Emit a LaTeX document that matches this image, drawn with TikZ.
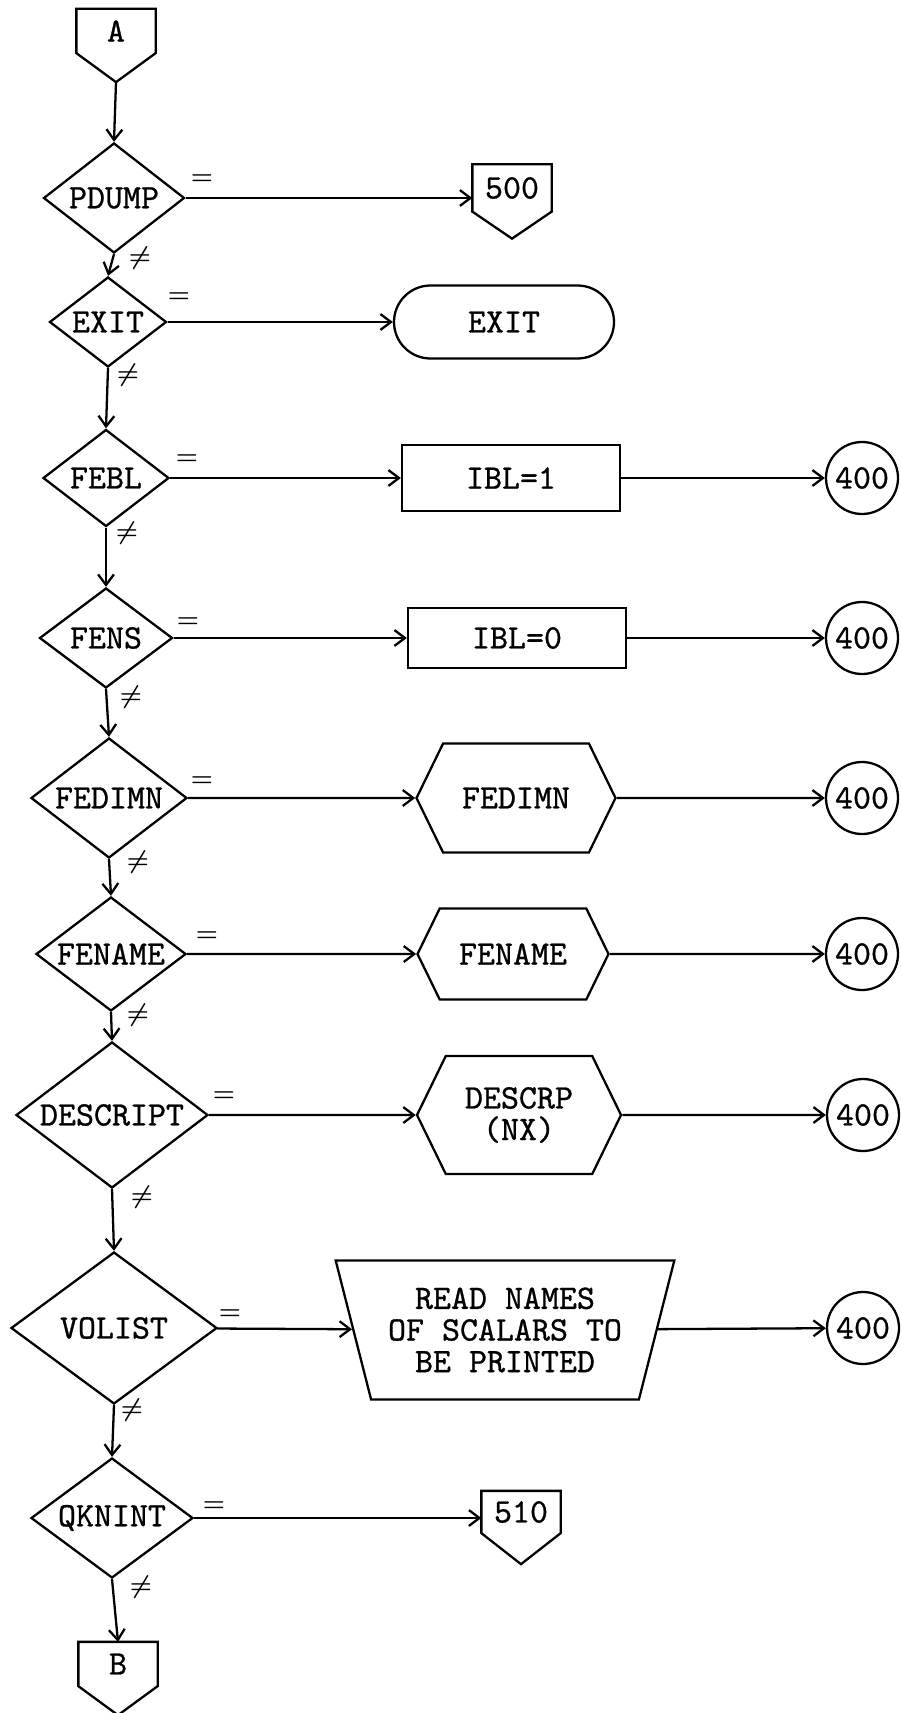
\documentclass[tikz,border=0pt]{standalone}
\usepackage{fontspec}
\newfontfamily\typewriter{lmmono10-regular.otf}[FakeBold=0.8]
\usetikzlibrary{arrows.meta,shapes.geometric,shapes.symbols}

% off-page connector outline: #1 node name, #2 depth of the point
\newcommand{\offpagebox}[2]{%
  \draw[line width=1.3pt] (#1.south west) -- (#1.north west) -- (#1.north east)
    -- (#1.south east) -- ([yshift=-#2]#1.south) -- cycle;
  \coordinate (#1-tip) at ([yshift=-#2]#1.south);}

\begin{document}
\begin{tikzpicture}[x=0.2mm, y=-0.2mm,
  font=\typewriter\fontsize{19.5}{18}\selectfont,
  every node/.style={line width=1.3pt, inner sep=0pt},
  test/.style={draw, diamond, aspect=1.3},
  offpage/.style={rectangle, minimum width=15.4mm, minimum height=8.4mm},
  prep/.style={draw, signal, signal to=east and west, signal pointer angle=128},
  proc/.style={draw, rectangle, minimum width=43.6mm},
  conn/.style={draw, circle, minimum size=14.4mm},
  flow/.style={-{Straight Barb[length=6pt,width=9pt]}, line width=1.3pt},
  lbl/.style={font=\fontsize{14}{16}\selectfont\boldmath},
]
  \useasboundingbox (0,0) rectangle (901,1713);

  %% Decision column
  \node[offpage] (a) at (116,31) {A};
  \node[test, minimum width=28.2mm, minimum height=22mm]   (pdump)    at (114,198)  {PDUMP};
  \node[test, minimum width=23.4mm, minimum height=18mm]   (exit)     at (108,322)  {EXIT};
  \node[test, minimum width=25.2mm, minimum height=19.4mm] (febl)     at (106,478)  {FEBL};
  \node[test, minimum width=26.6mm, minimum height=20mm]   (fens)     at (106,638)  {FENS};
  \node[test, minimum width=31.2mm, minimum height=24mm]   (fedimn)   at (109,798)  {FEDIMN};
  \node[test, minimum width=30mm,   minimum height=22.8mm] (fename)   at (111,954)  {FENAME};
  \node[test, minimum width=38.4mm, minimum height=29.2mm] (descript) at (112,1115) {DESCRIPT};
  \node[test, minimum width=41.2mm, minimum height=30.4mm] (volist)   at (114,1328) {VOLIST};
  \node[test, minimum width=32.4mm, minimum height=24mm]   (qknint)   at (112,1518) {QKNINT};
  \node[offpage] (b) at (118,1664) {B};

  %% Actions
  \node[offpage, minimum height=9mm] (p500) at (512,188) {500};
  \node[draw, rectangle, rounded corners=7.3mm, minimum width=44mm, minimum height=14.6mm] (stop) at (504,322) {EXIT};
  \node[proc, minimum height=13.2mm] (ibl1) at (511,478) {IBL=1};
  \node[proc, minimum height=12mm]   (ibl0) at (517,638) {IBL=0};
  \node[prep, minimum width=39.8mm, minimum height=21.8mm] (pdim)  at (516,798)  {FEDIMN};
  \node[prep, minimum width=38.2mm, minimum height=18.2mm] (pname) at (513,954)  {FENAME};
  \node[prep, minimum width=40.8mm, minimum height=23.6mm, align=center] (pdesc) at (519,1115) {DESCRP\\(NX)};
  \node[draw, trapezium, trapezium angle=70, shape border rotate=180, trapezium stretches=true,
        minimum width=67.8mm, minimum height=27.8mm, align=center] (rdnames) at (505,1330)
        {READ NAMES\\OF SCALARS TO\\BE PRINTED};
  \node[offpage, minimum height=8mm] (p510) at (521,1512) {510};

  \offpagebox{a}{5.8mm}
  \offpagebox{p500}{5.4mm}
  \offpagebox{p510}{6.2mm}
  \offpagebox{b}{5.8mm}

  %% Connectors 400
  \node[conn] (c1) at (862,478)  {400};
  \node[conn] (c2) at (862,638)  {400};
  \node[conn] (c3) at (862,798)  {400};
  \node[conn] (c4) at (862,954)  {400};
  \node[conn] (c5) at (863,1115) {400};
  \node[conn] (c6) at (863,1328) {400};

  %% Branch labels
  \node[lbl] (eq1) at (202,180)  {$=$};
  \node[lbl] (eq2) at (179,298)  {$=$};
  \node[lbl] (eq3) at (187,460)  {$=$};
  \node[lbl] (eq4) at (188,623)  {$=$};
  \node[lbl] (eq5) at (202,782)  {$=$};
  \node[lbl] (eq6) at (207,937)  {$=$};
  \node[lbl] (eq7) at (224,1097) {$=$};
  \node[lbl] (eq8) at (230,1315) {$=$};
  \node[lbl] (eq9) at (214,1507) {$=$};
  \node[lbl] (ne1) at (140,258)  {$\neq$};
  \node[lbl] (ne2) at (128,375)  {$\neq$};
  \node[lbl] (ne3) at (127,533)  {$\neq$};
  \node[lbl] (ne4) at (131,697)  {$\neq$};
  \node[lbl] (ne5) at (138,862)  {$\neq$};
  \node[lbl] (ne6) at (138,1015) {$\neq$};
  \node[lbl] (ne7) at (142,1197) {$\neq$};
  \node[lbl] (ne8) at (132,1410) {$\neq$};
  \node[lbl] (ne9) at (141,1587) {$\neq$};

  %% Main flow
  \draw[flow] (a-tip) -- (pdump.north);
  \draw[flow] (pdump.south) -- (exit.north);
  \draw[flow] (exit.south) -- (febl.north);
  \draw[flow] (febl.south) -- (fens.north);
  \draw[flow] (fens.south) -- (fedimn.north);
  \draw[flow] (fedimn.south) -- (fename.north);
  \draw[flow] (fename.south) -- (descript.north);
  \draw[flow] (descript.south) -- (volist.north);
  \draw[flow] (volist.south) -- (qknint.north);
  \draw[flow] (qknint.south) -- (b.north);

  %% Branches
  \draw[flow] (pdump.east) -- (pdump.east -| p500.west);
  \draw[flow] (exit) -- (stop);
  \draw[flow] (febl) -- (ibl1);
  \draw[flow] (ibl1) -- (c1);
  \draw[flow] (fens) -- (ibl0);
  \draw[flow] (ibl0) -- (c2);
  \draw[flow] (fedimn) -- (pdim);
  \draw[flow] (pdim) -- (c3);
  \draw[flow] (fename) -- (pname);
  \draw[flow] (pname) -- (c4);
  \draw[flow] (descript) -- (pdesc);
  \draw[flow] (pdesc) -- (c5);
  \draw[flow] (volist) -- (rdnames);
  \draw[flow] (rdnames) -- (c6);
  \draw[flow] (qknint.east) -- (qknint.east -| p510.west);
\end{tikzpicture}
\end{document}
